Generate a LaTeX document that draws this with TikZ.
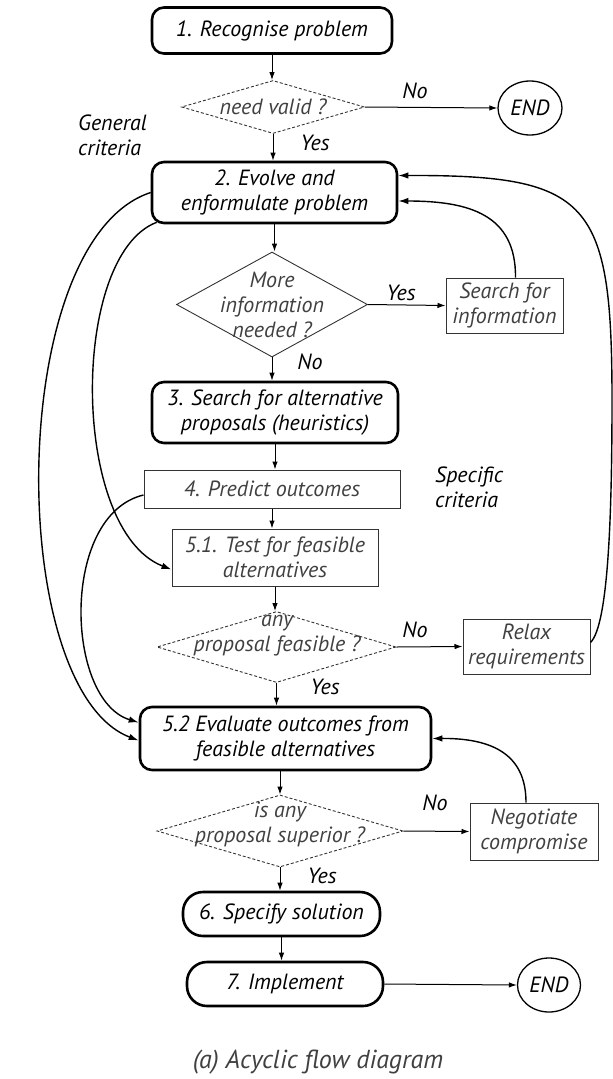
\documentclass[tikz,border=0pt]{standalone}
\usepackage{fontspec}
\setmainfont{PT Sans}
\usetikzlibrary{shapes.geometric,arrows.meta}
\begin{document}
\begin{tikzpicture}[x=1pt,y=-1pt,
  every node/.style={font=\fontsize{22}{25}\selectfont\itshape, align=center, inner sep=0pt},
  boldbox/.style={draw, line width=2.6pt, rounded corners=12pt},
  pill/.style={draw, line width=2.6pt, rounded corners=20pt},
  thinbox/.style={draw=black!80, line width=1pt, text=black!75},
  dec/.style={draw=black!80, diamond, line width=0.9pt},
  dashdec/.style={dec, dash pattern=on 3pt off 2pt},
  dtext/.style={text=black!75},
  arr/.style={line width=1pt, -{Latex[length=8pt,width=5.5pt]}},
  curve/.style={line width=1.4pt, -{Latex[length=10pt,width=6.5pt]}},
  endc/.style={draw, ellipse, line width=1.3pt},
]
\path[use as bounding box] (0,0) rectangle (613,1079);

% nodes
\node[boldbox, minimum width=240pt, minimum height=46pt] (n1) at (272,30.5) {1. Recognise problem};
\node[dashdec, minimum width=183pt, minimum height=53pt] (d1) at (273,107) {};
\node[dtext] (t1) at (d1) {need valid ?};
\node[endc, minimum width=64pt, minimum height=54pt] (e1) at (530,108) {END};
\node[anchor=west, align=left] (gc) at (78,135.5) {General\\criteria};
\node[boldbox, minimum width=245pt, minimum height=61pt] (n2) at (274.5,192.5) {2. Evolve and\\enformulate problem};
\node[dec, minimum width=191pt, minimum height=105pt] (d2) at (272,304.5) {};
\node[dtext] (t2) at (d2) {More\\information\\needed ?};
\node[thinbox, minimum width=117pt, minimum height=55pt] (s) at (504.5,305.5) {Search for\\information};
\node[boldbox, minimum width=246pt, minimum height=61pt] (n3) at (275,412.5) {3. Search for alternative\\proposals (heuristics)};
\node[thinbox, minimum width=256pt, minimum height=38pt] (n4) at (272,489) {4. Predict outcomes};
\node[anchor=west, align=left] (sc) at (435,487.5) {Specific\\criteria};
\node[thinbox, minimum width=206pt, minimum height=57pt] (n51) at (275,557.5) {5.1. Test for feasible\\alternatives};
\node[dashdec, minimum width=239pt, minimum height=71pt] (d3) at (276.5,647) {};
\node[dtext] (t3) at (277,636) {any\\proposal feasible ?};
\node[thinbox, minimum width=127pt, minimum height=55pt] (r) at (526.5,646.5) {Relax\\requirements};
\node[boldbox, minimum width=291pt, minimum height=63pt] (n52) at (285.5,738.5) {5.2 Evaluate outcomes from\\feasible alternatives};
\node[dashdec, minimum width=246pt, minimum height=72pt] (d4) at (280,831) {};
\node[dtext] (t4) at (280,824) {is any\\proposal superior ?};
\node[thinbox, minimum width=128pt, minimum height=57pt] (g) at (534,831.5) {Negotiate\\compromise};
\node[pill, minimum width=197pt, minimum height=44pt] (n6) at (281.5,914) {6. Specify solution};
\node[pill, minimum width=196pt, minimum height=44pt] (n7) at (285,984) {7. Implement};
\node[endc, minimum width=63pt, minimum height=54pt] (e2) at (549,985) {END};
\node[dtext, font=\fontsize{26}{28}\selectfont\itshape] (cap) at (318,1062) {(a) Acyclic flow diagram};

% labels
\node (l1) at (415,91) {No};
\node (l2) at (315,143) {Yes};
\node (l3) at (401,293) {Yes};
\node (l4) at (310,362) {No};
\node (l5) at (415,630) {No};
\node (l6) at (325,687) {Yes};
\node (l7) at (435,803) {No};
\node (l8) at (322,876) {Yes};

% straight connectors
\draw[arr] (n1.south) -- (n1.south |- d1.north);
\draw[arr] (d1.east) -- (e1.west);
\draw[arr] (d1.south) -- (d1.south |- n2.north);
\draw[arr] (n2.south) -- (n2.south |- d2.north);
\draw[arr] (d2.east) -- (s.west);
\draw[arr] (d2.south) -- (d2.south |- n3.north);
\draw[arr] (n3.south) -- (n3.south |- n4.north);
\draw[arr] (n4.south) -- (n4.south |- n51.north);
\draw[arr] (n51.south) -- (n51.south |- d3.north);
\draw[arr] (d3.east) -- (r.west);
\draw[arr] (d3.south) -- (d3.south |- n52.north);
\draw[arr] (d4.north |- n52.south) -- (d4.north);
\draw[arr] (d4.east) -- (g.west);
\draw[arr] (d4.south) -- (d4.south |- n6.north);
\draw[arr] (n6.south) -- (n6.south |- n7.north);
\draw[arr] (n7.east) -- (e2.west);

% curved connectors
\draw[curve] (n2.west) .. controls (5,240) and (5,690) .. ([yshift=-2pt]n52.west);
\draw[curve] ([xshift=6pt,yshift=2pt]n2.south west) .. controls (70,255) and (70,530) .. ([yshift=-12pt]n51.west);
\draw[curve] ([yshift=-6pt]n4.west) .. controls (60,515) and (65,700) .. ([yshift=16pt]n52.west);
\draw[curve] ([xshift=11pt]s.north) .. controls (516,215) and (470,201) .. ([yshift=-8.5pt]n2.east);
\draw[curve] ([yshift=4pt]r.east) .. controls (608,625) and (612,520) .. (612,400) .. controls (612,200) and (590,175) .. ([yshift=17pt]n2.east);
\draw[curve] ([xshift=-8pt]g.north) .. controls (526,760) and (500,738) .. (n52.east);
\end{tikzpicture}
\end{document}
